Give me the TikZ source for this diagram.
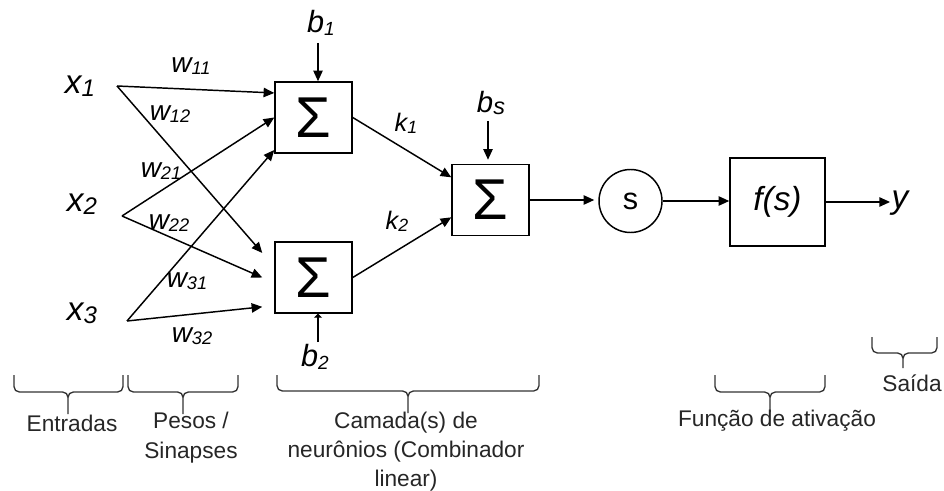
\documentclass[tikz,border=0pt]{standalone}
\usepackage{graphicx}
\usepackage{fontspec}
\setmainfont{Liberation Sans}
\usetikzlibrary{arrows.meta}

% small lowered index after a letter
\newcommand{\sub}[2][0.7]{\raisebox{-0.08em}{\scalebox{#1}{#2}}}
\newcommand{\sumsign}{\scalebox{1.2}[1.2]{Σ}}

\tikzset{
  arr/.style={-{Triangle[length=8pt,width=7pt]}, line width=1.1pt},
  sumbox/.style={draw, line width=1.1pt, minimum width=57.75pt, minimum height=53.25pt, inner sep=0pt, font=\fontsize{36}{36}\selectfont},
  inp/.style={inner sep=1pt, font=\fontsize{25}{25}\selectfont\itshape},
  wgt/.style={inner sep=1pt, font=\fontsize{21}{21}\selectfont\itshape},
  bias/.style={inner sep=1pt, font=\fontsize{23}{23}\selectfont\itshape},
  kout/.style={inner sep=1pt, font=\fontsize{19}{19}\selectfont\itshape},
  caption/.style={inner sep=0pt, text=black!85, align=center, font=\fontsize{17}{22}\selectfont},
  brc/.style={line width=1pt, draw=black!80, rounded corners=4pt}
}

\begin{document}
\begin{tikzpicture}[x=0.75pt,y=-0.75pt]
  \useasboundingbox (0,0) rectangle (944,491);

  % inputs
  \node[inp] (x1) at (80,86) {x\sub[0.72]{1}};
  \node[inp] (x2) at (82,204) {x\sub[0.72]{2}};
  \node[inp] (x3) at (82,313) {x\sub[0.72]{3}};
  \coordinate (x1o) at (117,86);
  \coordinate (x2o) at (122,216);
  \coordinate (x3o) at (127,321);

  % neurons
  \node[sumbox] (box1) at (313.5,117.5) {\sumsign};
  \node[sumbox] (box2) at (313.5,277.5) {\sumsign};
  \node[sumbox] (box3) at (490.5,200) {\sumsign};
  \node[draw, circle, line width=1.1pt, minimum size=47.25pt, inner sep=0pt,
        font=\fontsize{23}{23}\selectfont] (snode) at (630.5,201) {s};
  \node[draw, line width=1.1pt, minimum width=71.25pt, minimum height=66pt,
        font=\fontsize{25}{25}\selectfont\itshape] (fbox) at (777.5,202) {f(s)};
  \node[inp] (ylab) at (900,203) {y};

  % weights
  \node[wgt] (w11) at (191,66) {w\sub[0.65]{11}};
  \node[wgt] (w12) at (170,114) {w\sub[0.65]{12}};
  \node[wgt] (w21) at (161,171) {w\sub[0.65]{21}};
  \node[wgt] (w22) at (169,223) {w\sub[0.65]{22}};
  \node[wgt] (w31) at (187,281) {w\sub[0.65]{31}};
  \node[wgt] (w32) at (192,336) {w\sub[0.65]{32}};

  \draw[arr] (x1o) -- ([yshift=18.4pt]box1.west);
  \draw[arr] (x1o) -- ([xshift=-9pt,yshift=18.4pt]box2.west);
  \draw[arr] (x2o) -- (box1.west);
  \draw[arr] (x2o) -- ([xshift=-9pt]box2.west);
  \draw[arr] (x3o) -- ([yshift=-24.4pt]box1.west);
  \draw[arr] (x3o) -- ([xshift=-9pt,yshift=-22pt]box2.west);

  % biases
  \node[bias] (b1) at (321,23) {b\sub[0.62]{1}};
  \node[bias] (b2) at (315,357) {b\sub[0.62]{2}};
  \node[bias, font=\fontsize{22}{22}\selectfont\itshape] (bs) at (491,103) {b\sub[0.8]{s}};
  \coordinate (b1in) at (318,43);
  \coordinate (b2in) at (318,342);
  \coordinate (bsin) at (488,121);
  \draw[arr] (b1in) -- (b1in |- box1.north);
  \draw[line width=1.1pt, -{Triangle[length=3pt,width=6pt]}] (b2in) -- (b2in |- box2.south);
  \draw[arr, shorten >=3pt] (bsin) -- (bsin |- box3.north);

  % combiner
  \node[kout] (k1) at (406,123) {k\sub[0.7]{1}};
  \node[kout] (k2) at (397,221) {k\sub[0.7]{2}};
  \draw[arr] (box1.east) -- ([yshift=17pt]box3.west);
  \draw[arr] (box2.east) -- ([yshift=-13pt]box3.west);

  \draw[arr, shorten >=3pt] (box3.east) -- (box3.east -| snode.west);
  \draw[arr] (snode.east) -- (snode.east -| fbox.west);
  \draw[arr] (fbox.east) -- (fbox.east -| ylab.west);

  % braces and captions
  \foreach \l/\r/\m/\t/\h/\b in {14/123/68/375/392/414, 128/238/183/375/392/414,
      277/539/408/375/391/413, 715/825/770/375/392/412, 872/937/903/337/353/368}
    \draw[brc] (\l,\t) -- (\l,\h) -- (\m,\h) -- (\m,\b) (\r,\t) -- (\r,\h) -- (\m,\h) -- (\m,\b);

  \node[caption] (entradas) at (72,423) {Entradas};
  \node[caption] (pesos) at (191,437.5) {Pesos /\\Sinapses};
  \node[caption] (camada) at (406,451.5) {Camada(s) de\\neurônios (Combinador\\linear)};
  \node[caption] (ativ) at (777,421) {Função de ativação};
  \node[caption] (saida) at (912,383) {Saída};
\end{tikzpicture}
\end{document}
